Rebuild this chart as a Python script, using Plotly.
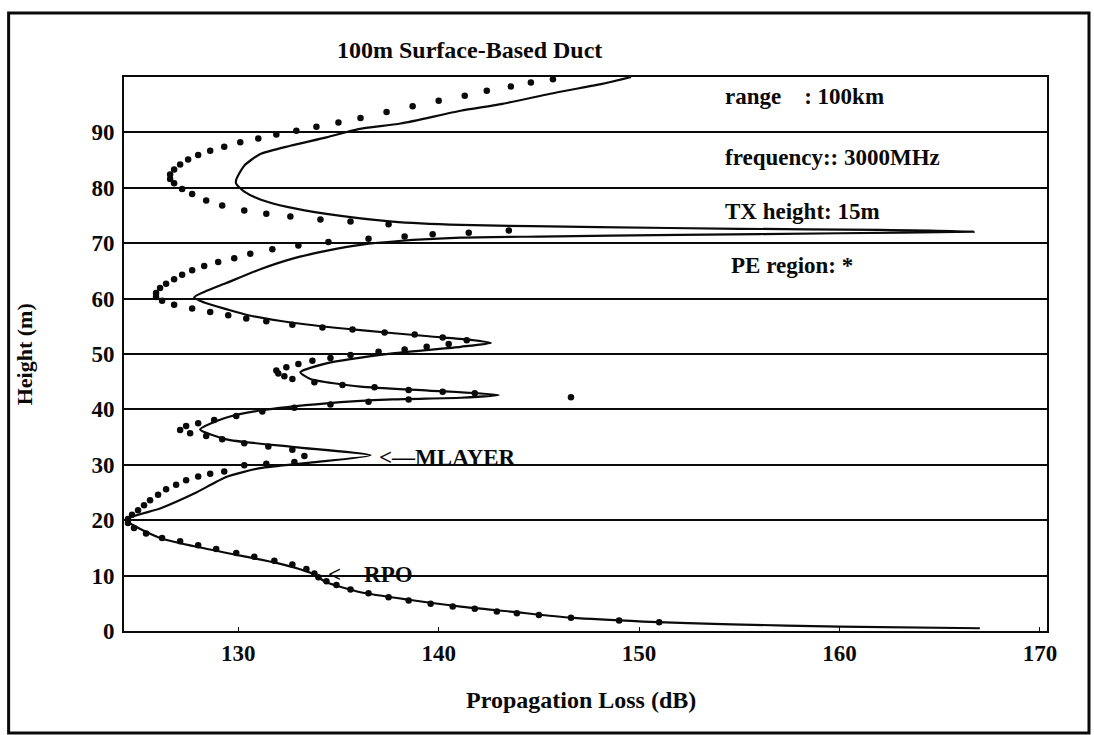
import plotly.graph_objects as go

# Propagation loss vs height, 100 m surface-based duct (range 100 km, 3000 MHz, TX 15 m)

# MLAYER solution, traced as one continuous curve from the top of the plot down to the surface
mlayer_loss = [149.6, 148.1, 146.0, 143.1, 141.1, 138.1, 136.0, 134.4, 132.6, 131.1, 130.3, 129.9,
               129.9, 130.3, 131.1, 132.5, 134.4, 137.7, 141.1, 148.0, 155.0, 162.0, 166.7,
               160.0, 152.0, 145.0, 141.1, 138.0, 136.1, 134.5, 132.8, 131.1, 129.4, 128.3, 127.8,
               128.3, 129.4, 130.5, 132.8, 136.1, 139.5, 141.5, 142.6,
               141.1, 137.7, 134.4, 133.1, 133.6, 136.1, 139.5, 143.0,
               141.1, 137.7, 134.4, 131.1, 129.3, 128.1,
               129.4, 132.8, 136.6,
               133.6, 131.1, 129.4, 127.8, 126.1, 124.4,
               126.1, 127.8, 130.1, 131.9, 133.6, 134.4, 136.1, 138.6, 141.1, 143.6, 146.6,
               150.2, 154.6, 160.0, 167.0]
mlayer_height = [100.0, 98.7, 97.3, 95.1, 93.9, 91.6, 90.6, 89.1, 87.6, 86.1, 84.0, 81.5,
                 80.7, 79.3, 77.9, 76.5, 75.3, 73.9, 73.3, 72.9, 72.6, 72.4, 72.1,
                 71.8, 71.5, 71.2, 71.0, 70.4, 69.7, 68.7, 67.3, 65.3, 62.8, 61.2, 60.2,
                 59.3, 58.1, 57.0, 55.6, 54.3, 53.2, 52.6, 52.0,
                 51.3, 50.1, 48.3, 46.7, 45.5, 44.1, 43.4, 42.6,
                 42.1, 41.8, 41.1, 39.8, 38.4, 36.4,
                 34.6, 33.2, 31.7,
                 30.4, 29.4, 27.8, 24.8, 22.1, 20.1,
                 16.8, 15.3, 13.6, 12.3, 10.5, 8.8, 7.0, 5.6, 4.4, 3.5, 2.4,
                 1.7, 1.2, 0.8, 0.5]

# RPO / PE-region points
rpo_loss = [145.7, 144.6, 143.6, 142.4, 141.3, 140.0, 138.7, 137.4, 136.1, 135.0, 133.9, 132.9,
            131.9, 131.0, 130.1, 129.3, 128.6, 128.0, 127.5, 127.1, 126.8, 126.6, 126.6, 126.8,
            127.2, 127.7, 128.4, 129.2, 130.3, 131.4, 132.6, 134.1, 135.6, 137.5,
            139.7, 141.5, 143.5,
            138.3, 136.5, 134.5, 133.0, 131.7, 130.6, 129.8, 129.0, 128.3, 127.7, 127.2, 126.8,
            126.4, 126.1, 125.9, 125.9, 126.2, 126.8, 127.7, 128.6, 129.5, 130.4, 131.4, 132.7,
            134.2, 135.7, 137.3, 138.8, 140.2, 141.4,
            140.5, 139.4, 138.3, 137.0, 135.6, 134.6, 133.7, 133.0, 132.4, 131.9, 132.0, 132.3,
            132.7, 133.8, 135.2, 136.8, 138.5, 140.2, 141.8, 146.6,
            138.5, 136.5, 134.6, 132.8, 131.2, 129.9, 128.8, 128.0, 127.4, 127.1,
            127.6, 128.4, 129.2, 130.3, 131.5, 132.7, 133.3,
            132.8, 131.4, 130.3, 129.3, 128.6, 128.0, 127.4, 126.9, 126.4, 126.0, 125.6, 125.3,
            125.0, 124.7, 124.5, 124.5, 124.8, 125.4, 126.2, 127.1, 128.0, 128.9, 129.9, 130.8,
            131.8, 132.7, 133.4, 133.8, 134.0, 134.4, 134.9, 135.6, 136.5, 137.5, 138.5, 139.6,
            140.7, 141.8, 142.9, 143.9, 145.0, 146.6, 149.0, 151.0]
rpo_height = [99.6, 99.0, 98.3, 97.5, 96.6, 95.7, 94.7, 93.7, 92.6, 91.8, 91.0, 90.3,
              89.6, 88.9, 88.2, 87.4, 86.7, 85.9, 85.1, 84.2, 83.3, 82.4, 81.6, 80.8,
              79.8, 78.9, 77.7, 76.8, 75.9, 75.3, 74.8, 74.3, 73.9, 73.4,
              71.6, 71.9, 72.3,
              71.2, 70.8, 70.2, 69.6, 68.9, 68.1, 67.3, 66.6, 65.9, 65.1, 64.3, 63.5,
              62.7, 61.9, 61.0, 60.3, 59.6, 58.9, 58.2, 57.6, 57.0, 56.4, 55.9, 55.3,
              54.8, 54.4, 53.9, 53.5, 53.0, 52.5,
              51.8, 51.3, 50.8, 50.4, 49.8, 49.3, 48.8, 48.2, 47.6, 47.0, 46.5, 46.0,
              45.5, 44.9, 44.4, 44.0, 43.5, 43.2, 42.9, 42.2,
              41.8, 41.4, 40.9, 40.3, 39.6, 38.8, 38.1, 37.5, 37.0, 36.3,
              35.7, 35.2, 34.6, 33.9, 33.3, 32.7, 31.6,
              30.5, 30.2, 29.9, 28.8, 28.4, 27.9, 27.2, 26.4, 25.6, 24.6, 23.6, 22.7,
              21.8, 21.0, 20.2, 19.5, 18.6, 17.6, 16.8, 16.2, 15.5, 14.8, 14.1, 13.4,
              12.7, 12.0, 11.2, 10.4, 9.7, 9.0, 8.3, 7.5, 6.8, 6.1, 5.5, 4.9,
              4.4, 4.0, 3.5, 3.2, 2.9, 2.4, 1.9, 1.6]

x_ticks = [130, 140, 150, 160, 170]
y_ticks = [0, 10, 20, 30, 40, 50, 60, 70, 80, 90]

FONT = "Liberation Serif"
INK = "#0a0a0a"


def label(text, size=24, **kw):
    return dict(text=text, showarrow=False,
                font=dict(family=FONT, size=size, color=INK, weight="bold"), **kw)


fig = go.Figure()
fig.add_trace(go.Scatter(x=mlayer_loss, y=mlayer_height, mode="lines",
                         line=dict(color=INK, width=2.2, shape="spline", smoothing=0.6),
                         name="MLAYER", showlegend=False))
fig.add_trace(go.Scatter(x=rpo_loss, y=rpo_height, mode="markers",
                         marker=dict(color=INK, size=6.5), name="RPO", showlegend=False))

annotations = [
    label("100m Surface-Based Duct", 24, xref="paper", yref="paper", x=0.374, y=1.0487,
          xanchor="center", yanchor="middle"),
    label("Propagation Loss (dB)", 24, xref="paper", yref="paper", x=0.495, y=-0.1245,
          xanchor="center", yanchor="middle"),
    label("Height (m)", 22, xref="paper", yref="paper", x=-0.108, y=0.5, textangle=-90,
          xanchor="center", yanchor="middle"),
    label("range\u00a0\u00a0\u00a0\u00a0: 100km", 23, x=154.2, y=96.4, xanchor="left"),
    label("frequency:: 3000MHz", 23, x=154.2, y=85.5, xanchor="left"),
    label("TX height: 15m", 23, x=154.2, y=75.8, xanchor="left"),
    label("PE region: *", 23, x=154.5, y=66.0, xanchor="left"),
    label("<\u2014MLAYER", 23, x=136.9, y=31.3, xanchor="left"),
    label("<\u2014RPO", 23, x=134.4, y=10.2, xanchor="left"),
]

fig.update_layout(
    width=1094, height=735,
    margin=dict(l=124, r=47, t=77, b=104),
    paper_bgcolor="white", plot_bgcolor="white",
    font=dict(family=FONT, color=INK, size=22),
    annotations=annotations,
    shapes=[dict(type="rect", xref="paper", yref="paper",
                 x0=-0.125, x1=1.0455, y0=-0.184, y1=1.1155,
                 line=dict(color=INK, width=3))],
    xaxis=dict(range=[124.3, 170.35], tickvals=x_ticks, showgrid=False, zeroline=False,
               showline=True, mirror=True, linecolor=INK, linewidth=2,
               ticks="inside", ticklen=4, tickcolor=INK, ticklabelstandoff=0,
               tickfont=dict(family=FONT, size=23, weight="bold")),
    yaxis=dict(range=[0, 100], tickvals=y_ticks, showgrid=True, gridcolor=INK, gridwidth=2,
               zeroline=False, showline=True, mirror=True, linecolor=INK, linewidth=2,
               ticks="", ticklabelstandoff=3,
               tickfont=dict(family=FONT, size=23, weight="bold")),
)

fig.write_html("out.html")
